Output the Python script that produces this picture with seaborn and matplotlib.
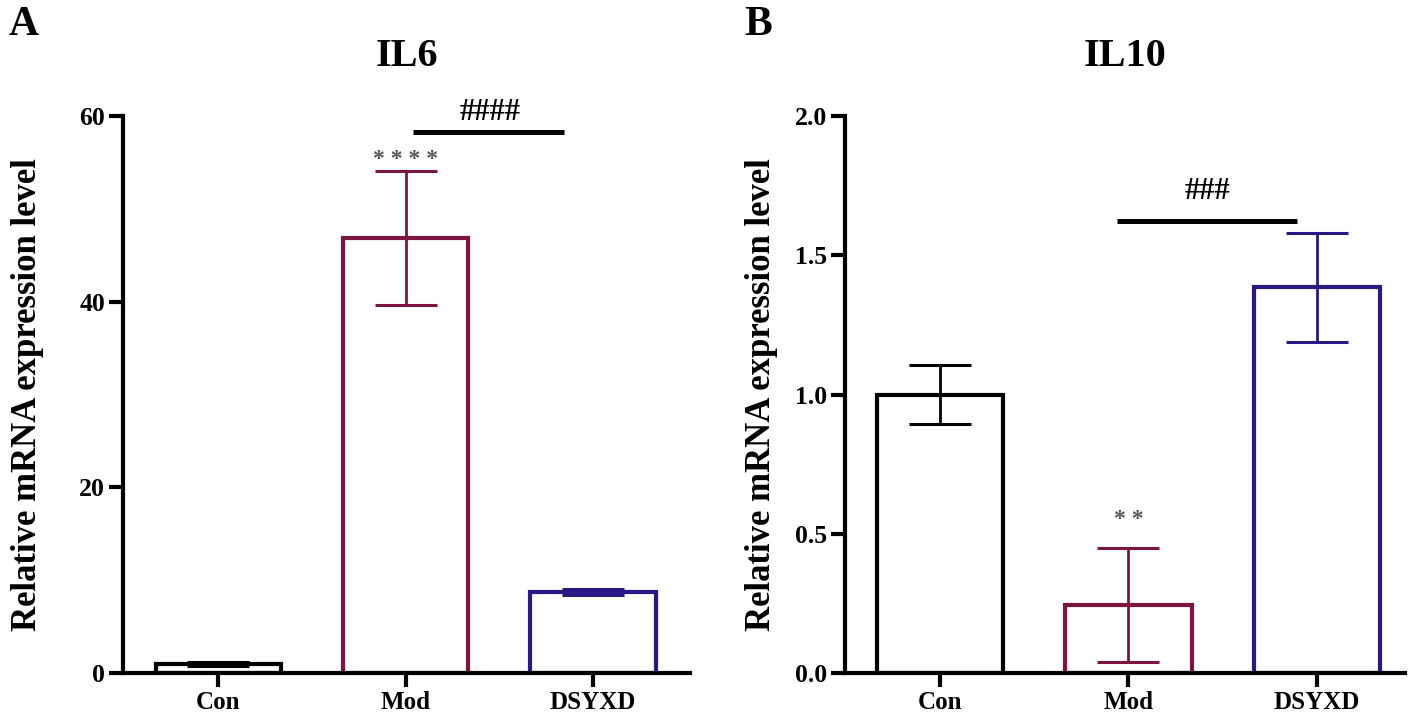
import pandas as pd
import seaborn as sns
import matplotlib
matplotlib.use("Agg")
import matplotlib.pyplot as plt

# group names and colours
groups = ["Con", "Mod", "DSYXD"]
group_colors = ["#000000", "#7d1540", "#2b1786"]

# IL6 relative expression (mean and error)
il6_mean = [1.0, 46.9, 8.7]
il6_err = [0.2, 7.2, 0.3]

# IL10 relative expression (mean and error)
il10_mean = [1.0, 0.245, 1.385]
il10_err = [0.105, 0.205, 0.195]

sns.set_style("ticks")
plt.rcParams['font.family'] = ['Liberation Serif', 'DejaVu Serif']
plt.rcParams['font.weight'] = 'bold'
plt.rcParams.update({"text.color": "black", "axes.labelcolor": "black",
                     "xtick.color": "black", "ytick.color": "black",
                     "axes.edgecolor": "black"})

fig = plt.figure(figsize=(14.18, 7.25), dpi=100)
ax1 = fig.add_axes([0.0867, 0.0717, 0.40, 0.768])
ax2 = fig.add_axes([0.596, 0.0717, 0.395, 0.768])


def draw_panel(ax, means, errs, title, ylim, yticks, ytick_fmt, xlim, ypad):
    df = pd.DataFrame({"group": groups, "value": means})
    sns.barplot(data=df, x="group", y="value", hue="group", palette=group_colors,
                fill=False, width=0.67, linewidth=3, errorbar=None, legend=False, ax=ax)
    for bar, col in zip(ax.patches, group_colors):
        bar.set_edgecolor(col)
        bar.set_facecolor("white")
    for i, (m, e) in enumerate(zip(means, errs)):
        ax.errorbar(i, m, yerr=e, fmt="none", ecolor=group_colors[i],
                    elinewidth=2, capsize=22, capthick=2.2, zorder=3)
    ax.set_xlim(*xlim)
    ax.set_ylim(*ylim)
    ax.set_yticks(yticks)
    ax.set_yticklabels([ytick_fmt.format(t) for t in yticks])
    ax.set_xlabel("")
    ax.set_ylabel("Relative mRNA expression level", fontsize=25, fontweight="bold", labelpad=ypad)
    ax.set_title(title, fontsize=29, fontweight="bold", pad=36)
    ax.tick_params(axis="both", width=3, length=10, pad=3)
    ax.tick_params(axis="x", labelsize=18)
    ax.tick_params(axis="y", labelsize=18.5)
    for lab in ax.get_xticklabels() + ax.get_yticklabels():
        lab.set_fontweight("bold")
    sns.despine(ax=ax)
    for s in ["left", "bottom"]:
        ax.spines[s].set_linewidth(3)


draw_panel(ax1, il6_mean, il6_err, "IL6", (0, 60), [0, 20, 40, 60], "{:.0f}", (-0.51, 2.52), 25)
draw_panel(ax2, il10_mean, il10_err, "IL10", (0, 2.0), [0, 0.5, 1.0, 1.5, 2.0], "{:.1f}", (-0.505, 2.47), 12)

# significance marks
ax1.text(1, 55.3, "* * * *", ha="center", va="center", fontsize=17, color="#555555")
ax1.plot([1.04, 1.845], [58.3, 58.3], color="black", lw=3.6, solid_capstyle="butt", clip_on=False)
ax1.text(1.45, 60.4, "####", ha="center", va="center", fontsize=22, color="black", clip_on=False)

ax2.text(1, 0.55, "* *", ha="center", va="center", fontsize=17, color="#555555")
ax2.plot([0.94, 1.894], [1.623, 1.623], color="black", lw=3.6, solid_capstyle="butt", clip_on=False)
ax2.text(1.42, 1.73, "###", ha="center", va="center", fontsize=22, color="black")

fig.text(0.006, 0.952, "A", fontsize=30, fontweight="bold")
fig.text(0.525, 0.952, "B", fontsize=30, fontweight="bold")

fig.savefig("out.png", dpi=100, facecolor="white")
